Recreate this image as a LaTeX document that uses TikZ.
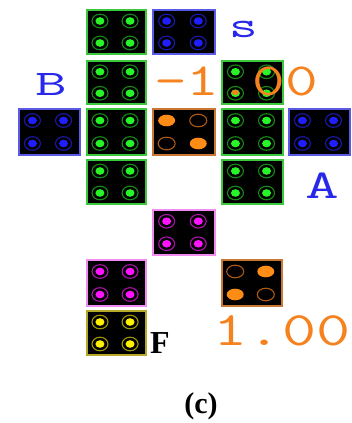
\documentclass[tikz,border=0pt]{standalone}
\usepackage{graphicx}
\usepackage{fontspec}
\setmainfont{Liberation Serif}
\definecolor{gB}{RGB}{60,200,60}\definecolor{gR}{RGB}{20,140,20}\definecolor{gD}{RGB}{40,245,40}
\definecolor{bB}{RGB}{90,90,230}\definecolor{bR}{RGB}{25,25,175}\definecolor{bD}{RGB}{30,30,255}
\definecolor{oB}{RGB}{200,120,50}\definecolor{oF}{RGB}{255,140,20}\definecolor{oR}{RGB}{170,90,20}
\definecolor{mB}{RGB}{240,140,240}\definecolor{mR}{RGB}{170,20,170}\definecolor{mD}{RGB}{255,20,255}
\definecolor{yB}{RGB}{180,170,40}\definecolor{yR}{RGB}{160,150,0}\definecolor{yD}{RGB}{255,240,0}
\definecolor{txtO}{RGB}{245,130,30}\definecolor{txtB}{RGB}{40,40,235}
\tikzset{
  cellbox/.style={fill=black,line width=1.3pt},
  ringc/.style={line width=1.1pt},
}
% \mycell{x1}{y1}{x2}{y2}{border}{ring}{dot}
\newcommand\mycell[7]{%
  \draw[cellbox,draw=#5] (#1,#2) rectangle (#3,#4);
  \foreach \fx in {0.22,0.73}{\foreach \fy in {0.25,0.75}{
    \pgfmathsetmacro\cx{#1+\fx*(#3-#1)}\pgfmathsetmacro\cy{#2+\fy*(#4-#2)}
    \draw[ringc,draw=#6] (\cx,\cy) ellipse [x radius=8,y radius=6.8];
    \fill[#7] (\cx,\cy) ellipse [x radius=4.5,y radius=3.8];
  }}}
% \myocell{x1}{y1}{x2}{y2}{flip}: orange cell
\newcommand\myocell[5]{%
  \draw[cellbox,draw=oB] (#1,#2) rectangle (#3,#4);
  \pgfmathsetmacro\lx{#1+0.22*(#3-#1)}\pgfmathsetmacro\rx{#1+0.73*(#3-#1)}
  \pgfmathsetmacro\ty{#2+0.25*(#4-#2)}\pgfmathsetmacro\by{#2+0.75*(#4-#2)}
  \ifnum#5=0
    \fill[oF] (\lx,\ty) ellipse [x radius=8.5,y radius=5.8];
    \fill[oF] (\rx,\by) ellipse [x radius=8.5,y radius=5.8];
    \draw[ringc,oR] (\rx,\ty) ellipse [x radius=8.5,y radius=6.3];
    \draw[ringc,oR] (\lx,\by) ellipse [x radius=8.5,y radius=6.3];
  \else
    \fill[oF] (\rx,\ty) ellipse [x radius=8.5,y radius=5.8];
    \fill[oF] (\lx,\by) ellipse [x radius=8.5,y radius=5.8];
    \draw[ringc,oR] (\lx,\ty) ellipse [x radius=8.5,y radius=6.3];
    \draw[ringc,oR] (\rx,\by) ellipse [x radius=8.5,y radius=6.3];
  \fi}
\begin{document}
\begin{tikzpicture}[x=1pt,y=-1pt]
\useasboundingbox (0,0) rectangle (352,423);
% row 1
\mycell{87}{10}{146}{54}{gB}{gR}{gD}
\mycell{153}{10}{215}{54}{bB}{bR}{bD}
% row 2
\mycell{87}{61}{146}{104}{gB}{gR}{gD}
\mycell{222}{61}{283}{104}{gB}{gR}{gD}
% row 3
\mycell{19}{109}{80}{155}{bB}{bR}{bD}
\mycell{87}{109}{146}{155}{gB}{gR}{gD}
\myocell{153}{109}{215}{155}{0}
\mycell{222}{109}{283}{155}{gB}{gR}{gD}
\mycell{289}{109}{350}{155}{bB}{bR}{bD}
% row 4
\mycell{87}{160}{146}{204}{gB}{gR}{gD}
\mycell{222}{160}{283}{204}{gB}{gR}{gD}
% row 5
\mycell{153}{210}{215}{255}{mB}{mR}{mD}
% row 6
\mycell{87}{260}{146}{306}{mB}{mR}{mD}
\myocell{222}{260}{282}{306}{1}
% row 7
\mycell{87}{311}{146}{355}{yB}{yR}{yD}
% texts
\node[anchor=base,inner sep=0,text=txtO] (m1) at (236,95)
  {\scalebox{1.38}[1]{\fontsize{46}{46}\selectfont\ttfamily -1.00}};
\node[anchor=base,inner sep=0,text=txtO] (p1) at (282,345)
  {\scalebox{1.38}[1]{\fontsize{48}{48}\selectfont\ttfamily 1.00}};
\node[anchor=base,inner sep=0,text=txtB] (lb) at (51,95)
  {\scalebox{1.7}[1]{\fontsize{36}{36}\selectfont\ttfamily B}};
\node[anchor=base,inner sep=0,text=txtB] (ls) at (243.5,37)
  {\scalebox{1.5}[1]{\fontsize{37}{37}\selectfont\ttfamily s}};
\node[anchor=base,inner sep=0,text=txtB] (la) at (322.5,198)
  {\scalebox{1.6}[1]{\fontsize{41}{41}\selectfont\ttfamily A}};
\node[anchor=base,inner sep=0] (lf) at (160,353)
  {\fontsize{32}{32}\selectfont\bfseries F};
\node[anchor=base,inner sep=0] (cap) at (201,413)
  {\fontsize{30}{30}\selectfont\bfseries (c)};
\end{tikzpicture}
\end{document}
